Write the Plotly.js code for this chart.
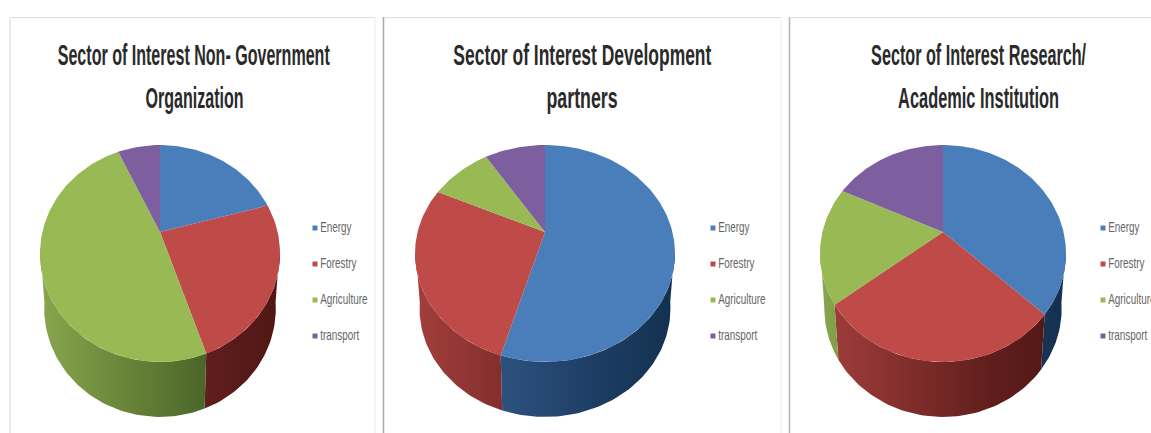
<!DOCTYPE html>
<html>
<head>
<meta charset="utf-8">
<script src="https://cdn.plot.ly/plotly-3.0.1.min.js"></script>
<style>html,body{margin:0;padding:0;background:#fff;overflow:hidden}</style>
</head>
<body>
<div id="chart" style="width:1151px;height:433px"></div>
<script>
// Share of respondents per sector, one array per stakeholder group
const categories = ["Energy", "Forestry", "Agriculture", "transport"];
const ngoValues = [6, 7, 14, 2];
const partnerValues = [6, 3, 1, 1];
const researchValues = [37, 27.5, 17.5, 18];

const ngoTitle = ["Sector of Interest Non- Government", "Organization"];
const partnerTitle = ["Sector of Interest Development", "partners"];
const researchTitle = ["Sector of Interest Research/", "Academic Institution"];

const W = 1151, H = 433;
const topColors = ["#4a7ebb", "#be4b48", "#98b954", "#7d5fa0"];
const wallLight = ["#3a6496", "#a33f3c", "#88a64c", "#6a4f8a"];
const wallMid = ["#1d3d64", "#5f1e1c", "#4a6528", "#3f2e58"];
const wallDark = ["#14304f", "#4f1715", "#3c5520", "#35264a"];

// Perspective of the tilted disc: rear edge 87px, front edge 130px from the apex
const tilt = 0.198, yScale = 104.2, depth = 55, baseShrink = 0.965;
const frontStart = 98, frontEnd = 262;

// Title and key lettering is condensed to these proportions
const titleFont = "'Liberation Sans', Arial, sans-serif";
const keyCondense = 0.66;

const panels = [
  {values: ngoValues, title: ngoTitle, titleWidths: [272, 98], left: 10, right: 383, cx: 160, rx: 120, titleX: 194, legendX: 315, border: "#d4d4d4"},
  {values: partnerValues, title: partnerTitle, titleWidths: [258, 71], left: 383, right: 789, cx: 545, rx: 130, titleX: 582, legendX: 713, border: "#a8a8a8"},
  {values: researchValues, title: researchTitle, titleWidths: [215, 161], left: 789, right: 1151, cx: 943, rx: 123, titleX: 978, legendX: 1103, border: "#b4b4b4"}
];

function project(deg, rx) {
  const t = deg * Math.PI / 180;
  const X = Math.sin(t), Y = Math.cos(t);
  const d = 1 + tilt * Y;
  return [rx * Math.sqrt(1 - tilt * tilt) * X / d, yScale * Y / d];
}

function arc(a, b, rx) {
  const pts = [];
  const n = Math.max(2, Math.ceil((b - a) / 1.5));
  for (let i = 0; i <= n; i++) pts.push(project(a + (b - a) * i / n, rx));
  return pts;
}

const traces = [];
const titleLineWidths = [];
const layout = {
  width: W, height: H,
  margin: {l: 0, r: 0, t: 0, b: 0},
  paper_bgcolor: "#fff", plot_bgcolor: "rgba(0,0,0,0)",
  showlegend: false, hovermode: false,
  shapes: [], annotations: []
};

panels.forEach((p, idx) => {
  const suffix = idx === 0 ? "" : String(idx + 1);
  const xa = "x" + suffix, ya = "y" + suffix;
  const axisBase = {visible: false, fixedrange: true, showgrid: false, zeroline: false};
  layout["xaxis" + suffix] = Object.assign({}, axisBase, {
    domain: [p.left / W, p.right / W],
    range: [p.left - p.cx, p.right - p.cx],
    anchor: ya
  });
  layout["yaxis" + suffix] = Object.assign({}, axisBase, {
    domain: [0, 1], range: [232 - H, 232], anchor: xa
  });

  const total = p.values.reduce((s, v) => s + v, 0);
  let acc = 0;
  const slices = p.values.map(v => {
    const a = acc / total * 360;
    acc += v;
    return [a, acc / total * 360];
  });

  // Side walls go first so the top faces sit over them
  slices.forEach(([a, b], i) => {
    const from = Math.max(a, frontStart), to = Math.min(b, frontEnd);
    if (to <= from) return;
    const upper = arc(from, to, p.rx);
    const lower = upper.map(([x, y]) => [x * baseShrink, y - depth]).reverse();
    const ring = upper.concat(lower);
    ring.push(upper[0]);
    traces.push({
      type: "scatter", mode: "lines", xaxis: xa, yaxis: ya,
      name: categories[i] + " side",
      x: ring.map(q => q[0]), y: ring.map(q => q[1]),
      line: {width: 0}, fill: "toself",
      fillgradient: {
        type: "horizontal", start: -p.rx, stop: p.rx,
        colorscale: [[0, wallLight[i]], [0.7, wallMid[i]], [1, wallDark[i]]]
      },
      hoverinfo: "skip"
    });
  });

  slices.forEach(([a, b], i) => {
    const rim = arc(a, b, p.rx);
    const poly = [[0, 0]].concat(rim, [[0, 0]]);
    traces.push({
      type: "scatter", mode: "lines", xaxis: xa, yaxis: ya,
      name: categories[i],
      x: poly.map(q => q[0]), y: poly.map(q => q[1]),
      line: {width: 0}, fill: "toself", fillcolor: topColors[i],
      hoverinfo: "skip"
    });
  });

  // Key to the right of each disc
  categories.forEach((c, i) => {
    traces.push({
      type: "scatter", mode: "markers+text", xaxis: xa, yaxis: ya,
      name: c + " key",
      x: [p.legendX - p.cx], y: [232 - (228 + i * 36)],
      text: [c], textposition: "middle right", cliponaxis: false,
      textfont: {family: titleFont, size: 15, color: "#666666"},
      marker: {symbol: "square", size: 5, color: topColors[i]},
      hoverinfo: "skip"
    });
  });

  p.title.forEach((line, i) => {
    titleLineWidths.push(p.titleWidths[i]);
    layout.annotations.push({
      xref: "paper", yref: "paper", x: p.titleX / W, y: 1 - (55 + i * 43) / H,
      xanchor: "center", yanchor: "middle", showarrow: false, text: "<b>" + line + "</b>",
      font: {family: titleFont, size: 29, color: "#2a2a2a"}
    });
  });

  // Panel frame: top rule and side rules
  layout.shapes.push(
    {type: "line", xref: "paper", yref: "paper", x0: (p.left + (idx ? 0.5 : 0)) / W, x1: (p.left + (idx ? 0.5 : 0)) / W, y0: 0, y1: 1 - 17 / H, line: {color: p.border, width: idx ? 1.5 : 1}},
    {type: "line", xref: "paper", yref: "paper", x0: (p.left + 1) / W, x1: (idx === 2 ? W : p.right - 8) / W, y0: 1 - 17.5 / H, y1: 1 - 17.5 / H, line: {color: "#dcdcdc", width: 1}}
  );
  if (idx < 2) layout.shapes.push(
    {type: "line", xref: "paper", yref: "paper", x0: (p.right - 8) / W, x1: (p.right - 8) / W, y0: 0, y1: 1 - 17 / H, line: {color: "#ececec", width: 1}}
  );
});

function condense(el, width) {
  el.setAttribute("textLength", width);
  el.setAttribute("lengthAdjust", "spacingAndGlyphs");
}

Plotly.newPlot("chart", traces, layout, {displayModeBar: false, staticPlot: true}).then(gd => {
  gd.querySelectorAll(".annotation-text").forEach((t, i) => condense(t, titleLineWidths[i]));
  gd.querySelectorAll(".textpoint text").forEach(t => {
    const natural = t.getComputedTextLength();
    t.setAttribute("x", parseFloat(t.getAttribute("x")) + 1);
    condense(t, natural * keyCondense);
  });
});
</script>
</body>
</html>
